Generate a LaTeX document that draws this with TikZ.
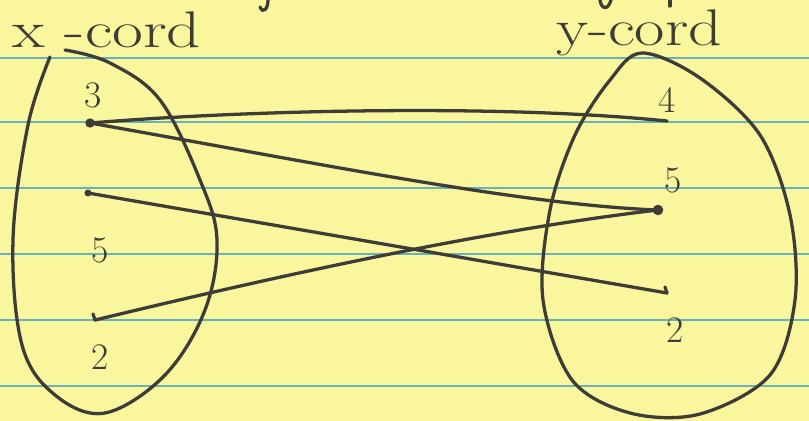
\documentclass[tikz,border=0pt]{standalone}
\usepackage{tikz}
\usetikzlibrary{arrows.meta,positioning}
\usepackage{xcolor}
\definecolor{ink}{RGB}{62,60,54}
\definecolor{paper}{RGB}{250,246,158}
\definecolor{rule}{RGB}{104,178,188}
\tikzset{
  blob/.style={draw=ink,line width=2.8pt,line cap=round,line join=round},
  wire/.style={draw=ink,line width=2.8pt,line cap=round},
  dotmark/.style={circle,fill=ink,inner sep=0pt,minimum size=#1},
  lbl/.style={text=ink,inner sep=0pt,font=\fontsize{44}{46}\selectfont},
  num/.style={text=ink,inner sep=0pt,font=\fontsize{32}{34}\selectfont},
  rulerline/.style={draw=rule,line width=1.1pt},
}

\begin{document}
\begin{tikzpicture}[x=0.3mm,y=-0.3mm]
\fill[paper] (0,0) rectangle (809,421);
\useasboundingbox (0,0) rectangle (809,421);
\foreach \yy in {58,122,188,254,320,386}{
  \draw[rulerline] (0,\yy) -- (809,\yy);}
% cut-off strokes of the title line
\draw[wire] (268,0) .. controls (268,9) and (263,14) .. (260,7);
\draw[wire] (600,0) .. controls (601,9) and (608,11) .. (611,0);
\draw[wire] (670,0) -- (670,6);
% headings
\node[lbl,anchor=base west] (xlab) at (12,48) {\scalebox{1.3}[1]{x -cord}};
\node[lbl,anchor=base west] (ylab) at (556,46) {\scalebox{1.28}[1]{y-cord}};
% the two sets
\draw[blob] plot[smooth,tension=0.6] coordinates {(50,57) (28,125) (13,240)
  (22,345) (55,395) (105,413) (165,375) (205,310) (217,240) (200,180)
  (160,100) (110,63) (65,50)};
\draw[blob] plot[smooth cycle,tension=0.55] coordinates {(642,53) (700,78)
  (760,135) (790,215) (795,300) (770,375) (700,414) (630,413) (572,380)
  (543,300) (550,210) (575,135) (610,80)};
% domain
\node[num] (x3) at (93,95) {3};
\node[num] (x5) at (100,250) {5};
\node[num] (x2) at (100,357) {2};
\coordinate (a1) at (90,123);
\coordinate (a2) at (88,193);
\coordinate (a3) at (95,320);
\node[dotmark=8pt] at (a1) {};
\node[dotmark=6pt] at (a2) {};
\draw[wire] (a3) -- ++(-2,-6);
% range
\node[num] (y4) at (667,100) {4};
\node[num] (y5) at (673,180) {5};
\node[num] (y2) at (675,330) {2};
\coordinate (b1) at (667,121);
\coordinate (b2) at (658,210);
\coordinate (b3) at (667,293);
\node[dotmark=9pt] at (b2) {};
\draw[wire] (b3) -- ++(-2,-6);
% pairs
\draw[wire] (a1) .. controls (250,110) and (500,104) .. (b1);
\draw[wire] (a1) .. controls (300,160) and (520,205) .. (b2);
\draw[wire] (a2) -- (b3);
\draw[wire] (a3) .. controls (220,290) and (460,233) .. (b2);
\end{tikzpicture}
\end{document}
